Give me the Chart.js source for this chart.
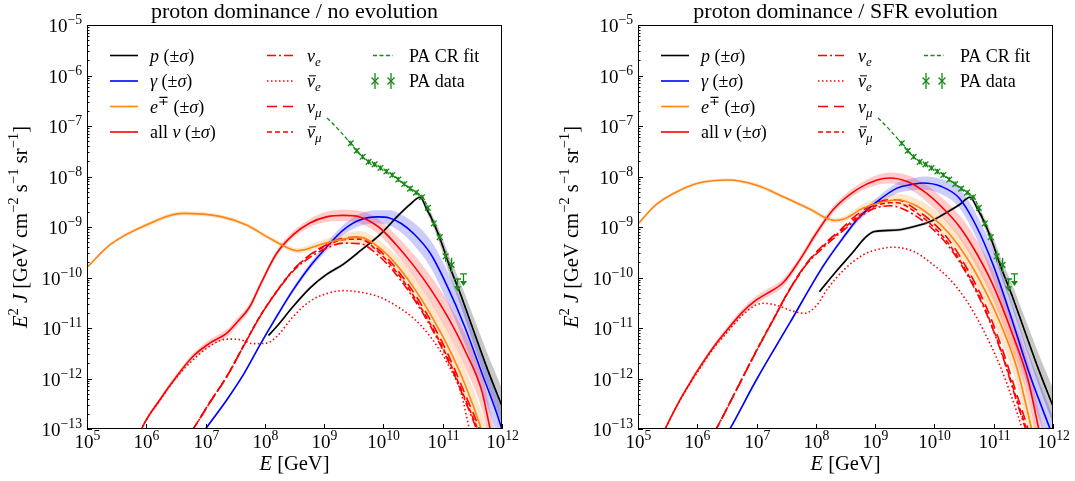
<!DOCTYPE html>
<html>
<head>
<meta charset="utf-8">
<script src="https://cdn.jsdelivr.net/npm/chart.js@4.4.1/dist/chart.umd.min.js"></script>
<style>
  body { margin: 0; background: #fff; }
  #wrap { position: relative; width: 1075px; height: 481px; }
  canvas { position: absolute; top: 0; }
</style>
</head>
<body>
<div id="wrap">
  <canvas id="leftChart" width="551" height="481" style="left:0px"></canvas>
  <canvas id="rightChart" width="524" height="481" style="left:551px"></canvas>
</div>
<script>
// ---- data: log10(E / GeV) and log10(E^2 J) ----

// PA CR fit and PA data (same in both panels)
const fitLogE = [9.05, 9.25, 9.43, 9.66, 9.89, 10.16, 10.4, 10.55, 10.67, 10.84, 10.98, 11.12, 11.29, 11.52, 11.75, 12.0, 12.1];
const fitLogF = [-6.84, -7.08, -7.32, -7.63, -7.78, -7.97, -8.2, -8.31, -8.42, -8.9, -9.31, -9.79, -10.3, -11.05, -11.8, -12.55, -12.85];
const paLogE = [9.45, 9.55, 9.65, 9.75, 9.85, 9.95, 10.05, 10.15, 10.25, 10.35, 10.45, 10.55, 10.65, 10.75, 10.85, 10.95, 11.05, 11.15];
const paLogF = [-7.34, -7.49, -7.61, -7.71, -7.76, -7.83, -7.9, -7.97, -8.06, -8.15, -8.24, -8.32, -8.41, -8.62, -8.93, -9.2, -9.58, -9.75];
const paErr  = [0.05, 0.05, 0.05, 0.05, 0.05, 0.05, 0.05, 0.05, 0.05, 0.05, 0.05, 0.05, 0.05, 0.05, 0.06, 0.07, 0.11, 0.14];
const ulLogE = [11.25, 11.35];
const ulLogF = [-10.03, -9.93];

// left panel: no evolution
const pLogE_L = [8.06, 8.2, 8.48, 8.76, 9.04, 9.32, 9.6, 9.97, 10.26, 10.45, 10.62, 10.73, 10.84, 10.98, 11.12, 11.29, 11.52, 11.75, 12.0];
const pLogF_L = [-11.15, -10.97, -10.57, -10.21, -9.94, -9.74, -9.48, -9.12, -8.76, -8.55, -8.41, -8.65, -8.9, -9.31, -9.79, -10.3, -11.05, -11.8, -12.55];
const pSig_L  = [0.02, 0.02, 0.03, 0.03, 0.03, 0.03, 0.03, 0.03, 0.03, 0.03, 0.03, 0.06, 0.1, 0.14, 0.18, 0.22, 0.27, 0.31, 0.35];

const gLogE_L = [6.8, 7.0, 7.36, 7.64, 7.92, 8.2, 8.48, 8.76, 9.04, 9.32, 9.6, 9.9, 10.1, 10.3, 10.5, 10.79, 11.08, 11.37, 11.66, 11.9, 12.05];
const gLogF_L = [-13.35, -13.0, -12.42, -11.92, -11.33, -10.77, -10.24, -9.78, -9.4, -9.06, -8.86, -8.8, -8.82, -8.93, -9.12, -9.52, -10.18, -10.97, -11.89, -12.65, -13.2];
const gSig_L  = [0.03, 0.03, 0.03, 0.03, 0.03, 0.04, 0.05, 0.06, 0.08, 0.1, 0.12, 0.13, 0.15, 0.18, 0.22, 0.27, 0.31, 0.34, 0.37, 0.39, 0.4];

const eLogE_L = [5.0, 5.39, 6.0, 6.62, 7.24, 7.69, 8.03, 8.42, 8.54, 8.7, 8.98, 9.32, 9.6, 9.92, 10.2, 10.5, 10.79, 11.08, 11.37, 11.65, 11.75];
const eLogF_L = [-9.8, -9.35, -8.96, -8.73, -8.79, -8.96, -9.19, -9.43, -9.47, -9.44, -9.33, -9.24, -9.2, -9.4, -9.72, -10.18, -10.72, -11.35, -12.1, -13.0, -13.4];
const eSig_L  = [0.03, 0.03, 0.04, 0.04, 0.04, 0.04, 0.04, 0.05, 0.05, 0.06, 0.08, 0.1, 0.12, 0.14, 0.18, 0.22, 0.26, 0.3, 0.33, 0.36, 0.37];

const nuLogE_L = [5.8, 5.92, 6.23, 6.51, 6.79, 7.07, 7.36, 7.52, 7.75, 7.92, 8.2, 8.48, 8.76, 9.04, 9.32, 9.6, 9.92, 10.2, 10.5, 10.79, 11.08, 11.37, 11.66, 11.8, 11.9];
const nuLogF_L = [-13.4, -13.0, -12.42, -11.96, -11.56, -11.3, -11.1, -10.9, -10.57, -10.15, -9.52, -9.15, -8.92, -8.8, -8.77, -8.8, -9.0, -9.33, -9.75, -10.22, -10.77, -11.43, -12.25, -13.0, -13.5];
const nuSig_L  = [0.04, 0.04, 0.05, 0.05, 0.06, 0.07, 0.08, 0.08, 0.07, 0.06, 0.06, 0.07, 0.08, 0.1, 0.11, 0.12, 0.15, 0.18, 0.22, 0.26, 0.3, 0.33, 0.36, 0.37, 0.38];

const nueLogE_L = [6.6, 6.79, 7.07, 7.36, 7.64, 7.92, 8.2, 8.48, 8.76, 9.04, 9.32, 9.6, 9.92, 10.2, 10.5, 10.79, 11.08, 11.37, 11.57, 11.67];
const nueLogF_L = [-13.3, -13.0, -12.48, -11.96, -11.36, -10.77, -10.28, -9.87, -9.6, -9.42, -9.32, -9.33, -9.57, -9.92, -10.4, -10.96, -11.62, -12.42, -13.0, -13.35];
const nuebLogE_L = [5.8, 5.92, 6.23, 6.51, 6.79, 7.07, 7.36, 7.58, 7.8, 8.03, 8.2, 8.48, 8.76, 9.04, 9.32, 9.6, 9.92, 10.2, 10.5, 10.79, 11.08, 11.31, 11.45, 11.55];
const nuebLogF_L = [-13.4, -13.0, -12.43, -11.98, -11.63, -11.36, -11.22, -11.23, -11.31, -11.3, -11.17, -10.77, -10.47, -10.32, -10.26, -10.29, -10.38, -10.55, -10.8, -11.17, -11.7, -12.29, -13.0, -13.4];
const numLogE_L = [6.6, 6.79, 7.07, 7.36, 7.64, 7.92, 8.2, 8.48, 8.76, 9.04, 9.32, 9.6, 9.92, 10.2, 10.5, 10.79, 11.08, 11.37, 11.62, 11.72];
const numLogF_L = [-13.3, -13.0, -12.48, -11.96, -11.36, -10.77, -10.28, -9.85, -9.55, -9.35, -9.22, -9.2, -9.45, -9.8, -10.28, -10.84, -11.5, -12.29, -13.0, -13.35];
const numbLogF_L = [-13.3, -13.0, -12.47, -11.95, -11.35, -10.76, -10.27, -9.85, -9.56, -9.37, -9.25, -9.24, -9.5, -9.86, -10.35, -10.92, -11.58, -12.38, -13.1, -13.45];

// right panel: SFR evolution
const pLogE_R = [8.06, 8.32, 8.61, 8.85, 8.99, 9.37, 9.66, 9.95, 10.24, 10.42, 10.6, 10.73, 10.84, 10.98, 11.12, 11.29, 11.52, 11.75, 12.0];
const pLogF_R = [-10.28, -9.91, -9.52, -9.19, -9.09, -9.06, -8.99, -8.88, -8.69, -8.56, -8.41, -8.65, -8.9, -9.31, -9.79, -10.3, -11.05, -11.8, -12.55];
const pSig_R  = [0.02, 0.02, 0.03, 0.03, 0.03, 0.03, 0.03, 0.03, 0.03, 0.03, 0.03, 0.06, 0.1, 0.14, 0.18, 0.22, 0.27, 0.31, 0.35];

const gLogE_R = [6.4, 6.55, 7.0, 7.56, 8.12, 8.5, 8.69, 9.03, 9.37, 9.66, 9.8, 10.12, 10.42, 10.71, 11.0, 11.29, 11.58, 11.87, 12.05];
const gLogF_R = [-13.3, -13.0, -12.02, -10.9, -9.78, -9.15, -8.86, -8.5, -8.23, -8.15, -8.13, -8.2, -8.43, -8.99, -9.78, -10.77, -11.83, -12.75, -13.3];
const gSig_R  = [0.03, 0.03, 0.03, 0.03, 0.04, 0.05, 0.06, 0.08, 0.1, 0.12, 0.13, 0.15, 0.19, 0.24, 0.29, 0.33, 0.36, 0.39, 0.4];

const eLogE_R = [5.0, 5.3, 5.71, 6.06, 6.52, 6.99, 7.45, 7.92, 8.15, 8.32, 8.5, 8.79, 9.08, 9.37, 9.66, 9.95, 10.24, 10.53, 10.82, 11.11, 11.4, 11.64, 11.75];
const eLogF_R = [-8.94, -8.56, -8.27, -8.12, -8.07, -8.17, -8.4, -8.66, -8.81, -8.87, -8.83, -8.63, -8.52, -8.46, -8.56, -8.79, -9.12, -9.58, -10.18, -10.9, -11.83, -13.0, -13.5];
const eSig_R  = [0.03, 0.03, 0.03, 0.03, 0.03, 0.04, 0.04, 0.04, 0.05, 0.05, 0.06, 0.08, 0.1, 0.12, 0.14, 0.17, 0.2, 0.24, 0.28, 0.31, 0.34, 0.36, 0.37];

const nuLogE_R = [5.3, 5.47, 5.71, 5.88, 6.0, 6.29, 6.44, 6.75, 6.99, 7.17, 7.45, 7.73, 8.01, 8.29, 8.69, 9.03, 9.25, 9.54, 9.83, 10.12, 10.42, 10.71, 11.0, 11.29, 11.58, 11.76, 11.86];
const nuLogF_R = [-13.4, -12.97, -12.42, -12.08, -11.85, -11.35, -11.13, -10.7, -10.45, -10.32, -10.1, -9.65, -9.12, -8.66, -8.26, -8.07, -8.03, -8.1, -8.3, -8.6, -8.99, -9.52, -10.18, -11.04, -12.03, -13.0, -13.5];
const nuSig_R  = [0.04, 0.04, 0.04, 0.05, 0.05, 0.05, 0.06, 0.07, 0.08, 0.08, 0.08, 0.07, 0.07, 0.07, 0.08, 0.1, 0.11, 0.13, 0.16, 0.19, 0.23, 0.27, 0.3, 0.33, 0.36, 0.37, 0.38];

const nueLogE_R = [6.15, 6.32, 6.72, 7.0, 7.28, 7.55, 7.85, 8.13, 8.41, 8.7, 8.97, 9.25, 9.37, 9.66, 9.95, 10.24, 10.53, 10.82, 11.11, 11.4, 11.58, 11.68];
const nueLogF_R = [-13.35, -13.0, -12.09, -11.45, -10.84, -10.26, -9.73, -9.4, -9.12, -8.84, -8.64, -8.58, -8.6, -8.76, -9.02, -9.38, -9.9, -10.56, -11.42, -12.5, -13.15, -13.5];
const nuebLogE_R = [5.3, 5.47, 5.71, 5.88, 6.0, 6.29, 6.44, 6.75, 6.95, 7.11, 7.34, 7.6, 7.8, 8.0, 8.2, 8.48, 8.8, 9.14, 9.3, 9.66, 9.95, 10.24, 10.53, 10.82, 11.11, 11.4, 11.48, 11.56];
const nuebLogF_R = [-13.4, -12.97, -12.43, -12.1, -11.88, -11.38, -11.17, -10.76, -10.57, -10.51, -10.55, -10.66, -10.71, -10.57, -10.22, -9.84, -9.55, -9.42, -9.4, -9.49, -9.72, -10.01, -10.44, -11.03, -11.76, -12.7, -13.0, -13.3];
const numLogE_R = nueLogE_R;
const numLogF_R = [-13.35, -13.0, -12.09, -11.45, -10.84, -10.25, -9.71, -9.35, -9.06, -8.75, -8.55, -8.46, -8.46, -8.63, -8.89, -9.25, -9.78, -10.44, -11.3, -12.35, -13.0, -13.4];
const numbLogF_R = [-13.35, -13.0, -12.08, -11.44, -10.83, -10.25, -9.72, -9.37, -9.09, -8.8, -8.6, -8.52, -8.52, -8.69, -8.96, -9.33, -9.86, -10.53, -11.4, -12.45, -13.1, -13.45];

// ---- styles ----
const FONT = '"Liberation Serif", "Times New Roman", serif';
const RED = '#ff0000', BLUE = '#0000ff', ORANGE = '#ff8410', BLACK = '#000000', GREEN = '#138a13';

function pts(le, lf, sig, s) {
  return le.map((e, i) => ({ x: Math.pow(10, e), y: Math.pow(10, lf[i] + (sig ? s * sig[i] : 0)) }));
}

function bandSets(le, lf, sig, fillColor) {
  return [
    { data: pts(le, lf, sig, -1), borderWidth: 0, borderColor: 'transparent', fill: false, order: 10 },
    { data: pts(le, lf, sig, 1), borderWidth: 0, borderColor: 'transparent', backgroundColor: fillColor, fill: '-1', order: 10 }
  ];
}

function lineSet(le, lf, color, dash, width) {
  return { data: pts(le, lf), borderColor: color, borderDash: dash || [], borderWidth: width || 1.6, fill: false, order: 2 };
}

// ---- rich text helpers (superscripts, subscripts, italics, overbar) ----
function segFont(s, size) {
  const sz = (s.sup || s.sub) ? size * 0.72 : size;
  return (s.it ? 'italic ' : '') + sz.toFixed(1) + 'px ' + FONT;
}
function richWidth(ctx, segs, size) {
  let w = 0;
  for (const s of segs) { ctx.font = segFont(s, size); w += ctx.measureText(s.t).width; }
  return w;
}
function drawRich(ctx, segs, x, y, size) {
  let cx = x;
  ctx.textAlign = 'left';
  ctx.textBaseline = 'alphabetic';
  for (const s of segs) {
    ctx.font = segFont(s, size);
    const dy = s.sup ? -size * 0.42 : (s.sub ? size * 0.24 : 0);
    ctx.fillText(s.t, cx, y + dy);
    const w = ctx.measureText(s.t).width;
    if (s.bar) {
      ctx.beginPath();
      ctx.lineWidth = 1;
      ctx.moveTo(cx + 2, y - size * 0.62);
      ctx.lineTo(cx + w + 1, y - size * 0.62);
      ctx.stroke();
    }
    cx += w;
  }
}
function pow10(k) { return [{ t: '10' }, { t: (k < 0 ? '\u2212' : '') + Math.abs(k), sup: true }]; }

const legendItems = [
  { col: 0, row: 0, color: BLACK, dash: [], segs: [{ t: 'p', it: true }, { t: ' (\u00b1' }, { t: '\u03c3', it: true }, { t: ')' }] },
  { col: 0, row: 1, color: BLUE, dash: [], segs: [{ t: '\u03b3', it: true }, { t: ' (\u00b1' }, { t: '\u03c3', it: true }, { t: ')' }] },
  { col: 0, row: 2, color: ORANGE, dash: [], segs: [{ t: 'e', it: true }, { t: '\u2213', sup: true }, { t: ' (\u00b1' }, { t: '\u03c3', it: true }, { t: ')' }] },
  { col: 0, row: 3, color: RED, dash: [], segs: [{ t: 'all ' }, { t: '\u03bd', it: true }, { t: ' (\u00b1' }, { t: '\u03c3', it: true }, { t: ')' }] },
  { col: 1, row: 0, color: RED, dash: [9, 3, 2, 3], segs: [{ t: '\u03bd', it: true }, { t: 'e', it: true, sub: true }] },
  { col: 1, row: 1, color: RED, dash: [1.5, 2.5], segs: [{ t: '\u03bd', it: true, bar: true }, { t: 'e', it: true, sub: true }] },
  { col: 1, row: 2, color: RED, dash: [10, 6], segs: [{ t: '\u03bd', it: true }, { t: '\u03bc', it: true, sub: true }] },
  { col: 1, row: 3, color: RED, dash: [5, 3], segs: [{ t: '\u03bd', it: true, bar: true }, { t: '\u03bc', it: true, sub: true }] },
  { col: 2, row: 0, color: GREEN, dash: [4, 2.5], segs: [{ t: 'PA CR fit' }] },
  { col: 2, row: 1, color: GREEN, marker: true, segs: [{ t: 'PA data' }] }
];
const legendCols = [{ x0: 110, x1: 138, tx: 150 }, { x0: 267, x1: 293, tx: 307 }, { x0: 373, x1: 393, tx: 409 }];
const legendRows = [55.5, 81, 106.5, 132];

function crossMark(ctx, x, y, r) {
  ctx.beginPath();
  ctx.moveTo(x - r, y - r); ctx.lineTo(x + r, y + r);
  ctx.moveTo(x - r, y + r); ctx.lineTo(x + r, y - r);
  ctx.stroke();
}

const decoPlugin = {
  id: 'deco',
  afterDatasetsDraw(chart) {
    const ctx = chart.ctx, xs = chart.scales.x, ys = chart.scales.y;
    ctx.save();
    ctx.strokeStyle = GREEN; ctx.fillStyle = GREEN; ctx.lineWidth = 1.3;
    // error bars
    paLogE.forEach((e, i) => {
      const x = xs.getPixelForValue(Math.pow(10, e));
      const y1 = ys.getPixelForValue(Math.pow(10, paLogF[i] + paErr[i]));
      const y2 = ys.getPixelForValue(Math.pow(10, paLogF[i] - paErr[i]));
      ctx.beginPath(); ctx.moveTo(x, y1); ctx.lineTo(x, y2); ctx.stroke();
    });
    // upper limits
    ulLogE.forEach((e, i) => {
      const x = xs.getPixelForValue(Math.pow(10, e));
      const y = ys.getPixelForValue(Math.pow(10, ulLogF[i]));
      const yt = ys.getPixelForValue(Math.pow(10, ulLogF[i] - 0.22));
      ctx.beginPath();
      ctx.moveTo(x - 3.5, y); ctx.lineTo(x + 3.5, y);
      ctx.moveTo(x, y); ctx.lineTo(x, yt - 3);
      ctx.stroke();
      ctx.beginPath();
      ctx.moveTo(x - 3.5, yt - 4); ctx.lineTo(x + 3.5, yt - 4); ctx.lineTo(x, yt + 1); ctx.closePath();
      ctx.fill();
    });
    ctx.restore();
  },
  afterDraw(chart, args, opts) {
    const ctx = chart.ctx, xs = chart.scales.x, ys = chart.scales.y, a = chart.chartArea;
    ctx.save();
    ctx.strokeStyle = '#000'; ctx.fillStyle = '#000'; ctx.lineWidth = 1;
    // frame
    ctx.strokeRect(a.left + 0.5, a.top + 0.5, a.right - a.left - 1, a.bottom - a.top - 1);
    // y ticks (major + minor, inward)
    for (let k = -13; k <= -5; k++) {
      const y = Math.round(ys.getPixelForValue(Math.pow(10, k))) + 0.5;
      ctx.beginPath(); ctx.moveTo(a.left, y); ctx.lineTo(a.left + 5, y); ctx.stroke();
      const segs = pow10(k);
      const w = richWidth(ctx, segs, 19);
      drawRich(ctx, segs, a.left - 5 - w, y + 6.5, 19);
      if (k < -5) {
        for (let m = 2; m <= 9; m++) {
          const ym = Math.round(ys.getPixelForValue(m * Math.pow(10, k))) + 0.5;
          ctx.beginPath(); ctx.moveTo(a.left, ym); ctx.lineTo(a.left + 2.5, ym); ctx.stroke();
        }
      }
    }
    // x ticks (major, inward)
    for (let k = 5; k <= 12; k++) {
      const x = Math.round(xs.getPixelForValue(Math.pow(10, k))) + 0.5;
      ctx.beginPath(); ctx.moveTo(x, a.bottom); ctx.lineTo(x, a.bottom - 5); ctx.stroke();
      const segs = pow10(k);
      const w = richWidth(ctx, segs, 19);
      drawRich(ctx, segs, x - w / 2, a.bottom + 19, 19);
    }
    // axis titles
    const cx = (a.left + a.right) / 2, cy = (a.top + a.bottom) / 2;
    const xt = [{ t: 'E', it: true }, { t: ' [GeV]' }];
    drawRich(ctx, xt, cx - richWidth(ctx, xt, 20.5) / 2, 470, 20.5);
    const yt = [{ t: 'E', it: true }, { t: '2', sup: true }, { t: ' ' }, { t: 'J', it: true }, { t: ' [GeV cm' },
      { t: '\u22122', sup: true }, { t: ' s' }, { t: '\u22121', sup: true }, { t: ' sr' }, { t: '\u22121', sup: true }, { t: ']' }];
    ctx.save();
    ctx.translate(27, cy);
    ctx.rotate(-Math.PI / 2);
    drawRich(ctx, yt, -richWidth(ctx, yt, 20.5) / 2, 0, 20.5);
    ctx.restore();
    // title
    const tt = [{ t: opts.title }];
    drawRich(ctx, tt, cx - richWidth(ctx, tt, 22) / 2, 18, 22);
    // legend
    legendItems.forEach(it => {
      const c = legendCols[it.col], y = legendRows[it.row];
      ctx.strokeStyle = it.color; ctx.fillStyle = it.color;
      if (it.marker) {
        ctx.lineWidth = 1.3;
        [c.x0 + 2, c.x1 - 2].forEach(mx => {
          crossMark(ctx, mx, y, 3.5);
          ctx.beginPath(); ctx.moveTo(mx, y - 8); ctx.lineTo(mx, y + 8); ctx.stroke();
        });
      } else {
        ctx.lineWidth = it.col === 2 ? 1.3 : 1.6;
        ctx.setLineDash(it.dash);
        ctx.beginPath(); ctx.moveTo(c.x0, y); ctx.lineTo(c.x1, y); ctx.stroke();
        ctx.setLineDash([]);
      }
      ctx.fillStyle = '#000'; ctx.strokeStyle = '#000';
      drawRich(ctx, it.segs, c.tx, y + 6, 18);
    });
    ctx.restore();
  }
};

function makeChart(id, title, padRight, P) {
  const datasets = [
    ...bandSets(P.eE, P.eF, P.eS, 'rgba(255,140,20,0.22)'),
    ...bandSets(P.nuE, P.nuF, P.nuS, 'rgba(255,0,0,0.2)'),
    ...bandSets(P.gE, P.gF, P.gS, 'rgba(0,0,255,0.2)'),
    ...bandSets(P.pE, P.pF, P.pS, 'rgba(0,0,0,0.22)'),
    lineSet(P.eE, P.eF, ORANGE),
    lineSet(P.nueE, P.nueF, RED, [9, 3, 2, 3]),
    lineSet(P.nuebE, P.nuebF, RED, [1.5, 2.5]),
    lineSet(P.numE, P.numF, RED, [10, 6]),
    lineSet(P.numE, P.numbF, RED, [5, 3]),
    lineSet(P.nuE, P.nuF, RED),
    lineSet(P.gE, P.gF, BLUE),
    lineSet(P.pE, P.pF, BLACK),
    lineSet(fitLogE, fitLogF, GREEN, [4, 2.5], 1.3),
    { data: pts(paLogE, paLogF), showLine: false, pointStyle: 'crossRot', pointRadius: 4, pointBorderWidth: 1.3,
      pointBorderColor: GREEN, borderColor: GREEN, order: 0 }
  ];
  return new Chart(document.getElementById(id), {
    type: 'line',
    data: { datasets },
    options: {
      responsive: false,
      animation: false,
      devicePixelRatio: 1,
      layout: { padding: { left: 87, top: 25, right: padRight, bottom: 52 } },
      scales: {
        x: { type: 'logarithmic', min: 1e5, max: 1e12, display: false },
        y: { type: 'logarithmic', min: 1e-13, max: 1e-5, display: false }
      },
      elements: {
        point: { radius: 0 },
        line: { cubicInterpolationMode: 'monotone' }
      },
      plugins: {
        legend: { display: false },
        tooltip: { enabled: false },
        deco: { title: title }
      }
    },
    plugins: [decoPlugin]
  });
}

makeChart('leftChart', 'proton dominance / no evolution', 49, {
  pE: pLogE_L, pF: pLogF_L, pS: pSig_L,
  gE: gLogE_L, gF: gLogF_L, gS: gSig_L,
  eE: eLogE_L, eF: eLogF_L, eS: eSig_L,
  nuE: nuLogE_L, nuF: nuLogF_L, nuS: nuSig_L,
  nueE: nueLogE_L, nueF: nueLogF_L,
  nuebE: nuebLogE_L, nuebF: nuebLogF_L,
  numE: numLogE_L, numF: numLogF_L, numbF: numbLogF_L
});

makeChart('rightChart', 'proton dominance / SFR evolution', 22, {
  pE: pLogE_R, pF: pLogF_R, pS: pSig_R,
  gE: gLogE_R, gF: gLogF_R, gS: gSig_R,
  eE: eLogE_R, eF: eLogF_R, eS: eSig_R,
  nuE: nuLogE_R, nuF: nuLogF_R, nuS: nuSig_R,
  nueE: nueLogE_R, nueF: nueLogF_R,
  nuebE: nuebLogE_R, nuebF: nuebLogF_R,
  numE: numLogE_R, numF: numLogF_R, numbF: numbLogF_R
});
</script>
</body>
</html>
